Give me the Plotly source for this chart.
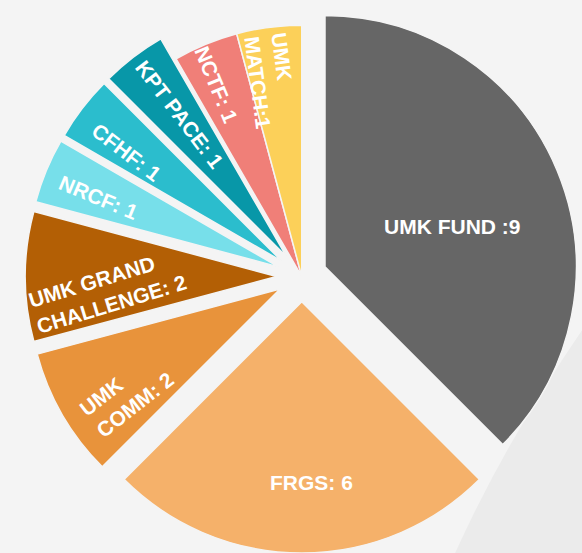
import math
import plotly.graph_objects as go

# grant counts by funding source (clockwise from 12 o'clock)
labels = ["UMK FUND", "FRGS", "UMK COMM", "UMK GRAND CHALLENGE",
          "NRCF", "CFHF", "KPT PACE", "NCTF", "UMK MATCH"]
values = [9, 6, 2, 2, 1, 1, 1, 1, 1]
slice_text = ["UMK FUND :9", "FRGS: 6", "UMK<br>COMM: 2", "UMK GRAND<br>CHALLENGE: 2",
              "NRCF: 1", "CFHF: 1", "KPT PACE: 1", "NCTF: 1", "UMK<br>MATCH:1"]
colors = ["#666666", "#F5B16A", "#E8933B", "#B35F05",
          "#77DFEA", "#2BBDCD", "#0897A8", "#F07F78", "#FCD059"]

# exploded slices (the last two stay in place)
pull = [0.1, 0.1, 0.1, 0.1, 0.1, 0.1, 0.1, 0, 0]

# label styling: distance from centre (fraction of radius), angular nudge (deg),
# rotation (None = radial)
label_r = [0.63, 0.82, 0.84, 0.775, 0.867, 0.853, 0.807, 0.836, 0.79]
label_dtheta = [4.1, -2.7, -3.8, -4.4, -1.3, -2.2, 0.5, -1.5, -1.4]
label_angle = [0, 0, -38, -17, None, None, None, None, None]

BG = "#F4F4F4"
W, H = 582, 553
dom_x = [0.037, 1.0]

fig = go.Figure(go.Pie(
    labels=labels, values=values, textinfo="none",
    sort=False, direction="clockwise", rotation=0, pull=pull,
    marker=dict(colors=colors, line=dict(color=BG, width=1.5)),
    domain=dict(x=dom_x, y=[0, 1]), hoverinfo="label+value",
))

# slice labels placed along each slice's bisector
cx = W * (dom_x[0] + dom_x[1]) / 2
cy = H / 2
r = min(W * (dom_x[1] - dom_x[0]), H) / (2 + 2 * max(pull))
total = sum(values)
annotations = []
cum = 0
for txt, v, lr, dt, ang in zip(slice_text, values, label_r, label_dtheta, label_angle):
    theta = 360 * (cum + v / 2) / total
    cum += v
    t = math.radians(theta + dt)
    px = cx + lr * r * math.sin(t)
    py = cy - lr * r * math.cos(t)
    annotations.append(dict(
        x=px / W, y=1 - py / H, xref="paper", yref="paper",
        text=txt, showarrow=False, align="left",
        xanchor="center", yanchor="middle",
        textangle=theta - 270 if ang is None else ang,
        font=dict(family="Liberation Sans, Arial, sans-serif", size=21,
                  color="white", weight="bold"),
    ))

fig.update_layout(
    width=W, height=H,
    margin=dict(l=0, r=0, t=0, b=0),
    paper_bgcolor=BG, plot_bgcolor=BG,
    showlegend=False,
    annotations=annotations,
    shapes=[dict(
        type="path", xref="paper", yref="paper", layer="below",
        path="M 1.0,0.403 Q 0.868,0.2 0.782,0 L 1.0,0 Z",
        fillcolor="#EBEBEB", line=dict(width=0),
    )],
)

fig.write_html("out.html", config={"displayModeBar": False},
               post_script="document.body.style.margin='0';")
